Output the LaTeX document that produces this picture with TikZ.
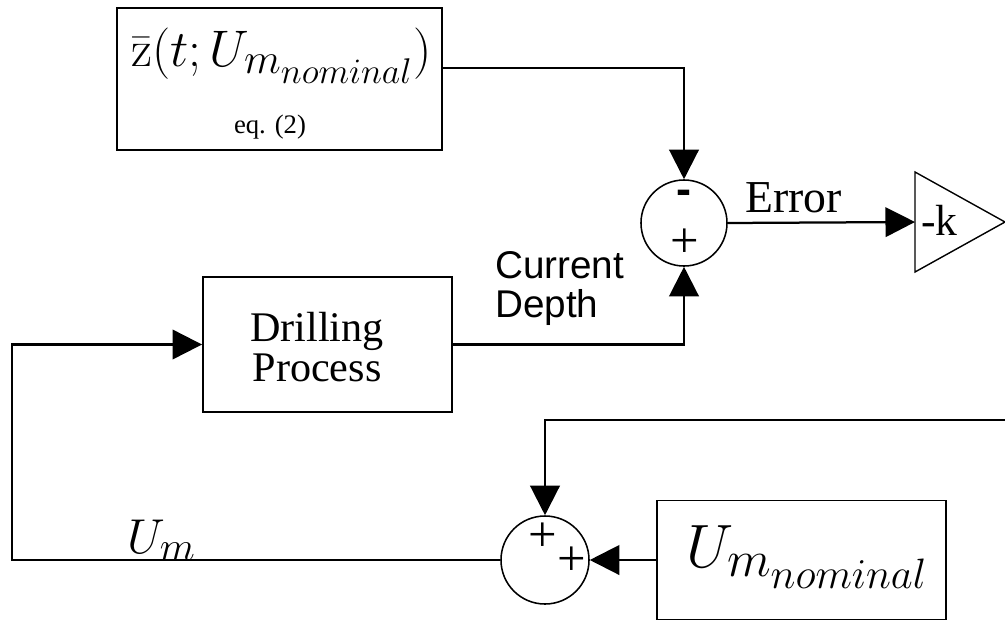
\documentclass[tikz,border=0pt]{standalone}
\usepackage{fontspec}
\usepackage{graphicx}
\usetikzlibrary{arrows.meta}
\newfontfamily\tms{Liberation Serif}
\newfontfamily\hlv{Liberation Sans}
\begin{document}
\begin{tikzpicture}[x=0.025cm,y=-0.025cm,
  blk/.style={draw, line width=1.3pt, inner sep=0},
  sumc/.style={draw, circle, line width=1.1pt, inner sep=0},
  conn/.style={line width=1.6pt, -{Triangle[length=21pt,width=21pt]}},
  lbl/.style={inner sep=0, anchor=base west},
  ctr/.style={inner sep=0, anchor=base},
  sign/.style={inner sep=0, font=\tms\fontsize{36}{36}\selectfont},
]
\useasboundingbox (0,0) rectangle (1005,620);
% blocks
\node[blk, minimum width=8.125cm, minimum height=3.55cm] (zbox) at (279.5,79) {};
\node[blk, minimum width=6.225cm, minimum height=3.375cm] (drill) at (327.5,344.5) {};
\node[blk, minimum width=7.225cm, minimum height=2.975cm] (unom) at (801.5,560) {};
\node[sumc, minimum size=2.15cm] (sum1) at (684,223) {};
\node[sumc, minimum size=2.2cm] (sum2) at (545,560) {};
\coordinate (gA) at (915,172);
\coordinate (gB) at (1005,222);
\coordinate (gC) at (915,272);
\coordinate (gin) at (915,222);
\draw[line width=1pt, line join=miter] (gA) -- (gB) -- (gC) -- cycle;
% texts
\node[lbl] (ztxt) at (131,66) {\scalebox{1.47}{\Huge$\bar{\mathrm{z}}(t;U_{m_{nominal}})$}};
\node[ctr, font=\tms\fontsize{19}{22}\selectfont] (eq) at (270,133) {eq. (2)};
\node[ctr, font=\tms\fontsize{30}{36}\selectfont] (d1) at (317,341) {Drilling};
\node[ctr, font=\tms\fontsize{30}{36}\selectfont] (d2) at (317,381) {Process};
\node[lbl, font=\hlv\fontsize{27.5}{30}\selectfont] (cur) at (495,278) {Current};
\node[lbl, font=\hlv\fontsize{27.5}{30}\selectfont] (dep) at (495,317) {Depth};
\node[lbl, font=\tms\fontsize{32.5}{36}\selectfont] (err) at (745,212) {Error};
\node[lbl, font=\tms\fontsize{31}{36}\selectfont] (k) at (921,235) {-k};
\node[lbl] (um) at (127,553) {\scalebox{1.4}{\Huge$U_m$}};
\node[lbl] (un) at (686,567) {\scalebox{1.75}{\Huge$U_{m_{nominal}}$}};
\node[inner sep=0, font=\hlv\bfseries\fontsize{32}{32}\selectfont] (m1) at (684,197) {-};
\node[sign] (p1) at (685,243) {+};
\node[sign] (p2) at (543,537) {+};
\node[sign] (p3) at (572,561) {+};
% connectors
\coordinate (zout) at (442,68);
\coordinate (fb) at (1005,420);
\coordinate (lc) at (12,560);
\draw[conn] (zout) -| (sum1.north);
\draw[conn] (drill.east) -| (sum1.south);
\draw[conn] (sum1.east) -- (gin);
\draw[conn] (fb) -| (sum2.north);
\draw[conn] (unom.west) -- (sum2.east);
\draw[conn] (sum2.west) -- (lc) |- (drill.west);
\end{tikzpicture}
\end{document}
